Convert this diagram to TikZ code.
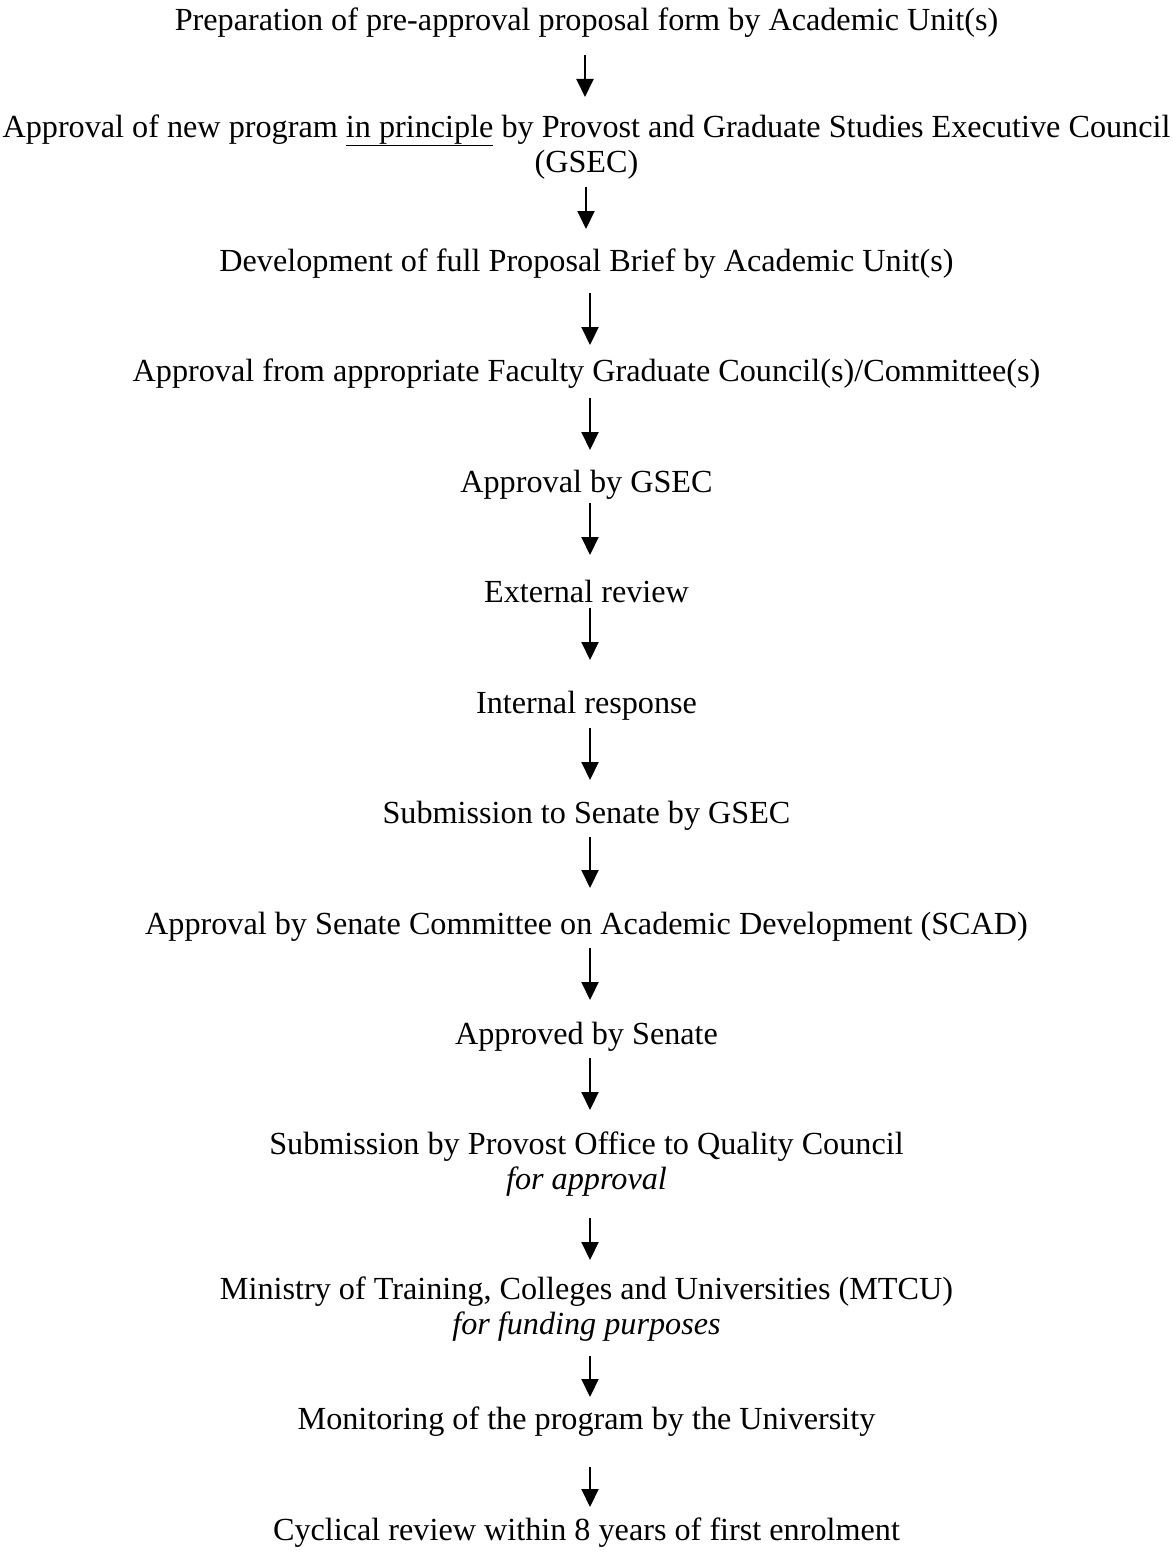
\documentclass[tikz,border=0pt]{standalone}
\usepackage{fontspec}
\setmainfont{Liberation Serif}
\usetikzlibrary{arrows.meta}
\begin{document}
\begin{tikzpicture}[x=1pt,y=1pt,
  txt/.style={anchor=base, inner sep=0pt, align=center, font=\fontsize{32.2}{35}\selectfont},
  flow/.style={line width=2pt, -{Triangle[width=17pt,length=18pt]}}]
\useasboundingbox (0,0) rectangle (1173,-1552);
\node[txt] (n1) at (586.5,-31) {Preparation of pre-approval proposal form by Academic Unit(s)};
\node[txt] (n2) at (586.5,-172) {Approval of new program \underline{in principle} by Provost and Graduate Studies Executive Council\\(GSEC)};
\node[txt] (n3) at (586.5,-271) {Development of full Proposal Brief by Academic Unit(s)};
\node[txt] (n4) at (586.5,-381) {Approval from appropriate Faculty Graduate Council(s)/Committee(s)};
\node[txt] (n5) at (586.5,-492) {Approval by GSEC};
\node[txt] (n6) at (586.5,-602) {External review};
\node[txt] (n7) at (586.5,-713) {Internal response};
\node[txt] (n8) at (586.5,-823) {Submission to Senate by GSEC};
\node[txt] (n9) at (586.5,-934) {Approval by Senate Committee on Academic Development (SCAD)};
\node[txt] (n10) at (586.5,-1044) {Approved by Senate};
\node[txt] (n11) at (586.5,-1189) {Submission by Provost Office to Quality Council\\\textit{for approval}};
\node[txt] (n12) at (586.5,-1334) {Ministry of Training, Colleges and Universities (MTCU)\\\textit{for funding purposes}};
\node[txt] (n13) at (586.5,-1429) {Monitoring of the program by the University};
\node[txt] (n14) at (586.5,-1540) {Cyclical review within 8 years of first enrolment};
\coordinate (a1s) at (585,-55);   \coordinate (a1e) at (585,-97);
\coordinate (a2s) at (586,-187);  \coordinate (a2e) at (586,-229);
\coordinate (a3s) at (590,-293);  \coordinate (a3e) at (590,-345);
\coordinate (a4s) at (590,-398);  \coordinate (a4e) at (590,-450);
\coordinate (a5s) at (590,-503);  \coordinate (a5e) at (590,-555);
\coordinate (a6s) at (590,-608);  \coordinate (a6e) at (590,-660);
\coordinate (a7s) at (590,-728);  \coordinate (a7e) at (590,-780);
\coordinate (a8s) at (590,-837);  \coordinate (a8e) at (590,-888);
\coordinate (a9s) at (590,-948);  \coordinate (a9e) at (590,-1000);
\coordinate (a10s) at (590,-1058); \coordinate (a10e) at (590,-1110);
\coordinate (a11s) at (590,-1218); \coordinate (a11e) at (590,-1260);
\coordinate (a12s) at (590,-1356); \coordinate (a12e) at (590,-1397);
\coordinate (a13s) at (590,-1467); \coordinate (a13e) at (590,-1507);
\foreach \i in {1,...,13} {\draw[flow] (a\i s) -- (a\i e);}
\end{tikzpicture}
\end{document}
